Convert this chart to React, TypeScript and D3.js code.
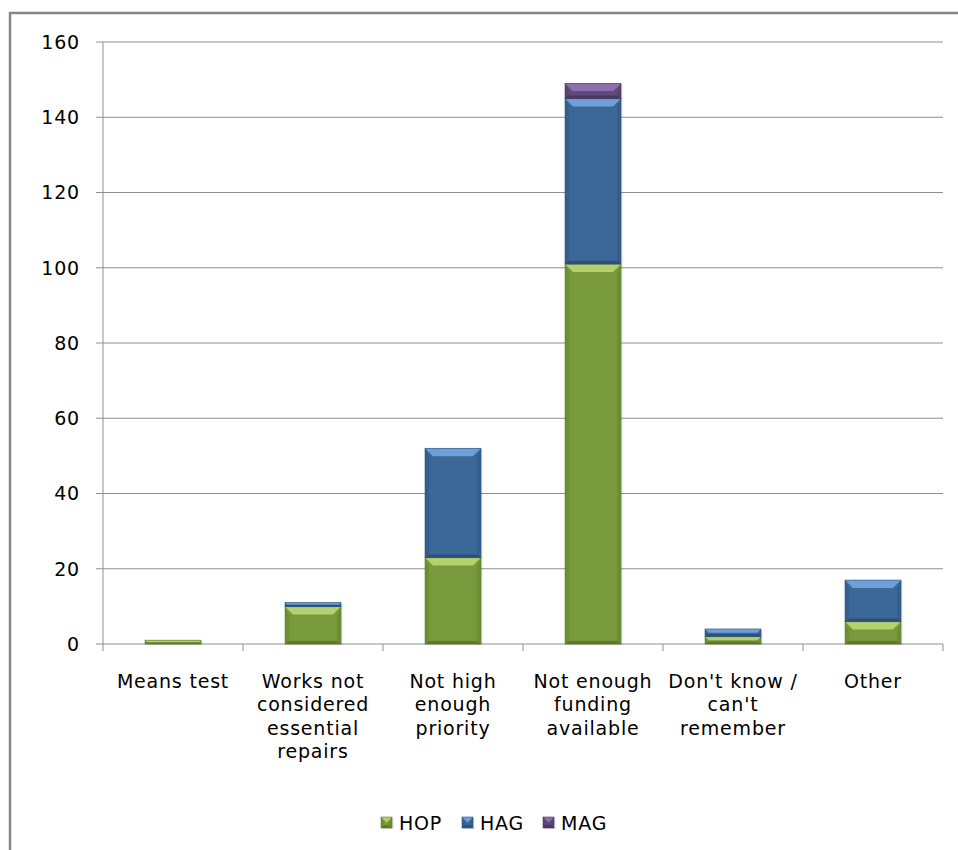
import React from "react";
import * as d3 from "d3";

const categories = [
  ["Means test"],
  ["Works not", "considered", "essential", "repairs"],
  ["Not high", "enough", "priority"],
  ["Not enough", "funding", "available"],
  ["Don't know /", "can't", "remember"],
  ["Other"],
];
const hop = [1, 10, 23, 101, 2, 6];
const hag = [0, 1, 29, 44, 2, 11];
const mag = [0, 0, 0, 4, 0, 0];
const seriesNames = ["HOP", "HAG", "MAG"];
const yTicks = [0, 20, 40, 60, 80, 100, 120, 140, 160];

const palette = [
  { main: "#789a3d", light: "#b3d26e", dark: "#5d7a2b", side: "#6e8e36" },
  { main: "#3b6799", light: "#6f9fd8", dark: "#2c5079", side: "#355e8d" },
  { main: "#604a7b", light: "#8b70ad", dark: "#4a385f", side: "#58446f" },
];

const W = 958;
const H = 850;
const left = 103;
const right = 943;
const top = 42;
const bottom = 644;
const FONT = "DejaVu Sans, Verdana, sans-serif";
const LS = 0.8;

function BevelBar({ x, y, w, h, c }: { x: number; y: number; w: number; h: number; c: typeof palette[0] }) {
  if (h <= 0) return null;
  const b = Math.min(8, h / 2, w / 2);
  const bb = Math.min(3, h / 3);
  return (
    <g>
      <rect x={x + 1.5} y={y + 1} width={w} height={h} fill="#000" opacity={0.12} />
      <rect x={x} y={y} width={w} height={h} fill={c.main} />
      {/* top bevel */}
      <polygon points={`${x},${y} ${x + w},${y} ${x + w - b},${y + b} ${x + b},${y + b}`} fill={c.light} />
      {/* side bevels */}
      <polygon points={`${x},${y} ${x + b * 0.5},${y + b} ${x + b * 0.5},${y + h - bb} ${x},${y + h}`} fill={c.side} />
      <polygon points={`${x + w},${y} ${x + w - b * 0.5},${y + b} ${x + w - b * 0.5},${y + h - bb} ${x + w},${y + h}`} fill={c.side} />
      {/* bottom bevel */}
      <polygon points={`${x},${y + h} ${x + w},${y + h} ${x + w - bb},${y + h - bb} ${x + bb},${y + h - bb}`} fill={c.dark} />
      <rect x={x} y={y} width={w} height={h} fill="none" stroke={c.dark} strokeWidth={0.8} strokeOpacity={0.7} />
    </g>
  );
}

export default function App() {
  const x = d3.scaleBand<number>().domain(d3.range(categories.length)).range([left, right]).paddingInner(0.6).paddingOuter(0.3);
  const band = d3.scaleBand<number>().domain(d3.range(categories.length)).range([left, right]);
  const y = d3.scaleLinear().domain([0, 160]).range([bottom, top]);

  const stacked = categories.map((_, i) => {
    const vals = [hop[i], hag[i], mag[i]];
    let acc = 0;
    return vals.map((v) => {
      const y0 = acc;
      acc += v;
      return [y0, acc];
    });
  });

  const legendX = [381, 462, 543];

  return (
    <svg width={W} height={H} style={{ position: "absolute", left: 0, top: 0, background: "#fff" }} fontFamily={FONT} letterSpacing={LS}>
      <rect x={10} y={13} width={W + 20} height={H + 20} fill="#fff" stroke="#878787" strokeWidth={2.5} />

      {/* gridlines and value axis */}
      {yTicks.map((t) => (
        <g key={t}>
          <line x1={left - 7} x2={right} y1={y(t)} y2={y(t)} stroke="#8f8f8f" strokeWidth={1} />
          <text x={80} y={y(t)} dy="0.36em" textAnchor="end" fontSize={19} fill="#000">
            {t}
          </text>
        </g>
      ))}
      <line x1={left} x2={left} y1={top} y2={bottom} stroke="#8f8f8f" strokeWidth={1} />
      {d3.range(categories.length + 1).map((i) => {
        const xx = i < categories.length ? (band(i) as number) : right;
        return <line key={i} x1={xx} x2={xx} y1={bottom} y2={bottom + 7} stroke="#8f8f8f" strokeWidth={1} />;
      })}

      {/* stacked bars */}
      {stacked.map((segs, i) =>
        segs.map(([a, b2], s) => (
          <BevelBar key={`${i}-${s}`} x={x(i) as number} y={y(b2)} w={x.bandwidth()} h={y(a) - y(b2)} c={palette[s]} />
        ))
      )}

      {/* category labels */}
      {categories.map((lines, i) => (
        <text key={i} x={(band(i) as number) + band.bandwidth() / 2} y={688} textAnchor="middle" fontSize={19} fill="#000">
          {lines.map((l, k) => (
            <tspan key={k} x={(band(i) as number) + band.bandwidth() / 2} dy={k === 0 ? 0 : 23.3}>
              {l}
            </tspan>
          ))}
        </text>
      ))}

      {/* legend */}
      {seriesNames.map((n, s) => (
        <g key={n}>
          <BevelBar x={legendX[s]} y={817} w={11} h={11} c={palette[s]} />
          <text x={legendX[s] + 18} y={823} dy="0.36em" fontSize={19} fill="#000">
            {n}
          </text>
        </g>
      ))}
    </svg>
  );
}
